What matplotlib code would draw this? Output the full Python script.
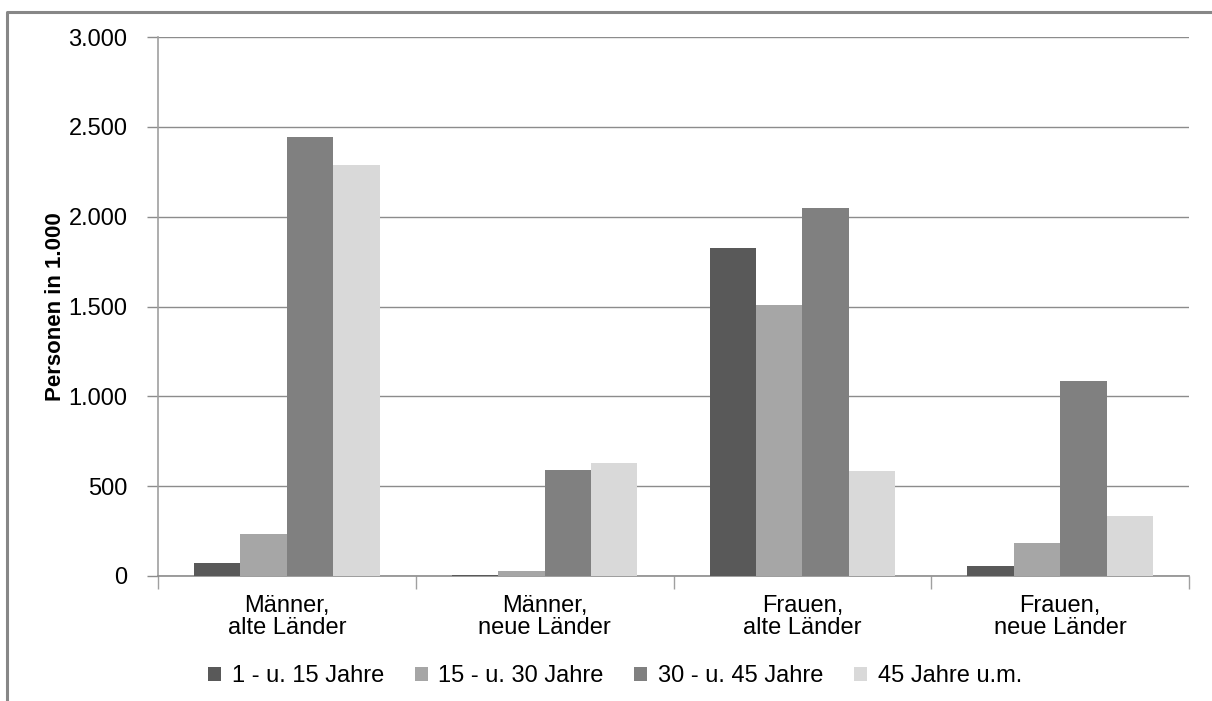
import matplotlib
matplotlib.use("Agg")
import matplotlib.pyplot as plt
from matplotlib.patches import Patch
from matplotlib.lines import Line2D
import numpy as np

categories = ["Männer,\nalte Länder", "Männer,\nneue Länder", "Frauen,\nalte Länder", "Frauen,\nneue Länder"]
series_names = ["1 - u. 15 Jahre", "15 - u. 30 Jahre", "30 - u. 45 Jahre", "45 Jahre u.m."]
v_1_15 = [72, 5, 1825, 56]
v_15_30 = [232, 30, 1508, 184]
v_30_45 = [2445, 590, 2050, 1083]
v_45 = [2288, 628, 585, 334]
yticks = [0, 500, 1000, 1500, 2000, 2500, 3000]
ytick_labels = ["0", "500", "1.000", "1.500", "2.000", "2.500", "3.000"]
colors = ["#595959", "#a6a6a6", "#808080", "#d9d9d9"]

plt.rcParams['font.family'] = ['Liberation Sans', 'DejaVu Sans']

W, H = 1212, 701
fig = plt.figure(figsize=(W / 100, H / 100), dpi=100)
fig.patch.set_facecolor("white")

# outer frame
fig.add_artist(Line2D([7 / W, 7 / W, 1.0], [0.0, 1 - 12 / H, 1 - 12 / H],
                      transform=fig.transFigure, color="#878787", lw=2.2))

ax = fig.add_axes([158 / W, 1 - 576 / H, 1031 / W, 539 / H])
x = np.arange(len(categories))
bw = 0.18
all_vals = [v_1_15, v_15_30, v_30_45, v_45]
for i, (vals, c, name) in enumerate(zip(all_vals, colors, series_names)):
    ax.bar(x + (i - 1.5) * bw, vals, width=bw, color=c, label=name, zorder=3)

ax.set_xlim(-0.5, len(categories) - 0.5)
ax.set_ylim(0, 3000)
ax.set_yticks(yticks)
ax.set_yticklabels(ytick_labels)
ax.yaxis.grid(True, color="#8c8c8c", lw=1.0, zorder=0)
ax.set_axisbelow(True)
for s in ["top", "right"]:
    ax.spines[s].set_visible(False)
ax.spines["left"].set_color("#a0a0a0")
ax.spines["bottom"].set_color("#8c8c8c")
ax.spines["left"].set_linewidth(1.2)
ax.spines["bottom"].set_linewidth(1.2)

fs = 17
ax.tick_params(axis="y", length=8, width=1.0, color="#8c8c8c", pad=14, labelsize=fs, labelcolor="black")
ax.set_xticks(x)
ax.set_xticklabels(categories, fontsize=fs, linespacing=1.0)
ax.tick_params(axis="x", which="major", length=0, pad=13.5)
ax.set_xticks(np.arange(len(categories) + 1) - 0.5, minor=True)
ax.tick_params(axis="x", which="minor", length=9, width=1.0, color="#a0a0a0")

ax.set_ylabel("Personen in 1.000", fontsize=16, fontweight="bold", labelpad=2)

handles = [Patch(facecolor=c, edgecolor="none") for c in colors]
fig.legend(handles, series_names, loc="center", bbox_to_anchor=(615 / W, 1 - 676 / H),
           ncol=4, frameon=False, fontsize=fs, handlelength=0.55, handleheight=0.55,
           handletextpad=0.45, columnspacing=1.3)

fig.savefig("out.png", dpi=100, facecolor="white")
